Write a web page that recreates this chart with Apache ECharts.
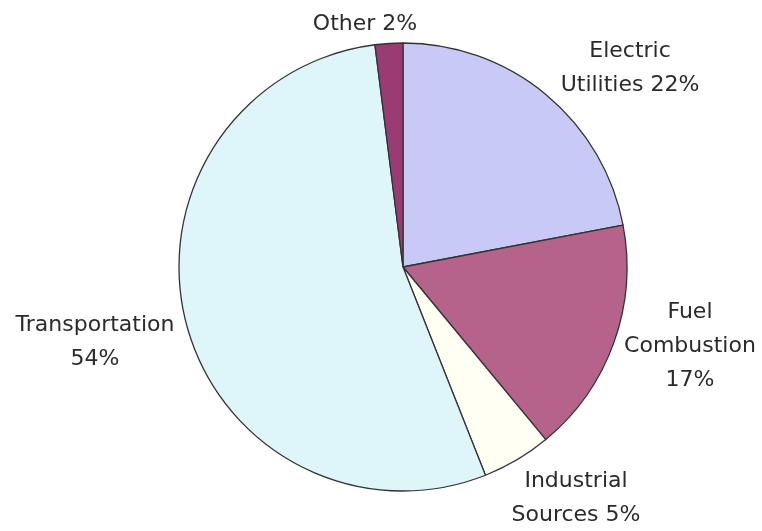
<!DOCTYPE html>
<html>
<head>
<meta charset="utf-8">
<script src="https://cdn.jsdelivr.net/npm/echarts@6/dist/echarts.min.js"></script>
<style>
  html, body { margin: 0; padding: 0; background: #ffffff; }
  #chart { width: 762px; height: 531px; }
</style>
</head>
<body>
<div id="chart"></div>
<script>
// Emission sources, clockwise from 12 o'clock
const categories = ['Electric\nUtilities', 'Fuel\nCombustion', 'Industrial\nSources', 'Transportation', 'Other'];
const shares = [22, 17, 5, 54, 2];
const sliceColors = ['#c9c9f7', '#b5638a', '#fffff4', '#def5f9', '#9b3b74'];

// How each label's text is put together
const labelText = [
  'Electric\nUtilities 22%',
  'Fuel\nCombustion\n17%',
  'Industrial\nSources 5%',
  'Transportation\n54%',
  'Other 2%'
];
// Label anchor points (centre of the text block)
const labelSpots = [
  [630, 68],
  [690, 346],
  [576, 498],
  [95, 342],
  [365, 24]
];

const chart = echarts.init(document.getElementById('chart'), null, { renderer: 'canvas' });

chart.setOption({
  backgroundColor: '#ffffff',
  animation: false,
  series: [{
    type: 'pie',
    center: [403, 267],
    radius: 224,
    startAngle: 90,
    clockwise: true,
    avoidLabelOverlap: false,
    itemStyle: { borderColor: '#333333', borderWidth: 1.3 },
    label: {
      show: true,
      position: 'outside',
      color: '#2a2a2a',
      fontFamily: 'DejaVu Sans, sans-serif',
      fontSize: 22,
      lineHeight: 34,
      align: 'center',
      formatter: p => labelText[p.dataIndex]
    },
    labelLine: { show: false },
    labelLayout: p => ({
      x: labelSpots[p.dataIndex][0],
      y: labelSpots[p.dataIndex][1],
      align: 'center',
      verticalAlign: 'middle'
    }),
    emphasis: { disabled: true },
    data: categories.map((name, i) => ({
      name: name,
      value: shares[i],
      itemStyle: { color: sliceColors[i] }
    }))
  }]
});
</script>
</body>
</html>
